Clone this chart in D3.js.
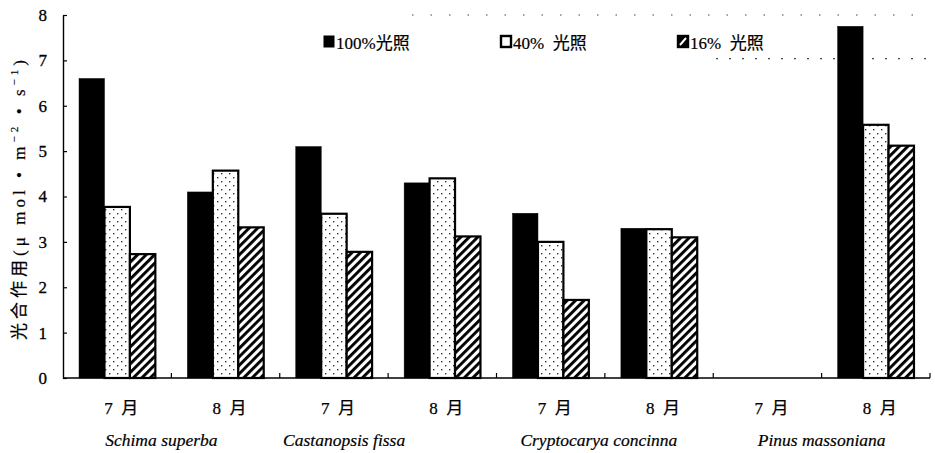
<!DOCTYPE html>
<html><head><meta charset="utf-8">
<script src="https://cdn.jsdelivr.net/npm/d3@7"></script>
<style>
body{margin:0;background:#fff;}
svg{display:block;}
text{font-family:"Liberation Serif","Times New Roman",serif;}
.cjk{font-family:"Liberation Serif","Noto Sans CJK SC",serif;}
</style></head>
<body>
<svg id="chart" width="935" height="453"></svg>
<script>
// ---- data ----
const months = ["7 月","8 月","7 月","8 月","7 月","8 月","7 月","8 月"];
const species = ["Schima superba","Castanopsis fissa","Cryptocarya concinna","Pinus massoniana"];
const seriesNames = ["100%光照","40%  光照","16%  光照"];
const light100 = [6.6, 4.1, 5.1, 4.3, 3.63, 3.3, null, 7.75];
const light40  = [3.77, 4.57, 3.62, 4.4, 3.0, 3.28, null, 5.58];
const light16  = [2.73, 3.32, 2.78, 3.12, 1.72, 3.1, null, 5.12];
const yTicks = [0,1,2,3,4,5,6,7,8];

// ---- layout ----
const svg = d3.select("#chart");
const mLeft = 63, mRight = 930, mTop = 15, mBottom = 378;
const defs = svg.append("defs");
const dots = defs.append("pattern").attr("id","dots").attr("patternUnits","userSpaceOnUse")
  .attr("width",8).attr("height",8);
dots.append("rect").attr("width",8).attr("height",8).attr("fill","#fff");
dots.append("rect").attr("x",1).attr("y",1).attr("width",1.4).attr("height",1.4).attr("fill","#333");
dots.append("rect").attr("x",5).attr("y",5).attr("width",1.4).attr("height",1.4).attr("fill","#333");
const hatch = defs.append("pattern").attr("id","hatch").attr("patternUnits","userSpaceOnUse")
  .attr("width",6).attr("height",6).attr("patternTransform","rotate(45)");
hatch.append("rect").attr("width",6).attr("height",6).attr("fill","#fff");
hatch.append("rect").attr("x",0).attr("y",0).attr("width",2.9).attr("height",6).attr("fill","#000");

const fills = ["#000","url(#dots)","url(#hatch)"];
const seriesData = [light100, light40, light16];

const x0 = d3.scaleBand().domain(d3.range(months.length)).range([mLeft,mRight]).padding(0);
const x1 = d3.scaleBand().domain(d3.range(3)).range([0,x0.bandwidth()]).paddingInner(0).paddingOuter(0.63);
const y = d3.scaleLinear().domain([0,8]).range([mBottom,mTop]);

// faint scan remnants (dotted lines near the top)
svg.append("line").attr("x1",412).attr("x2",930).attr("y1",y(8)).attr("y2",y(8))
  .attr("stroke","#444").attr("stroke-width",1.2).attr("stroke-dasharray","1.5 17");
svg.append("line").attr("x1",716).attr("x2",930).attr("y1",y(7.04)).attr("y2",y(7.04))
  .attr("stroke","#444").attr("stroke-width",1.2).attr("stroke-dasharray","2 11");

// bars
seriesData.forEach((arr,s)=>{
  svg.append("g").selectAll("rect").data(arr.map((v,i)=>({v,i})).filter(d=>d.v!=null))
    .join("rect")
    .attr("x",d=>x0(d.i)+x1(s))
    .attr("y",d=>y(d.v))
    .attr("width",x1.bandwidth())
    .attr("height",d=>y(0)-y(d.v))
    .attr("fill",fills[s])
    .attr("stroke","#000")
    .attr("stroke-width",s===0?0.5:2.2);
});

// y axis
const yAxis = svg.append("g").attr("transform",`translate(${mLeft},0)`)
  .call(d3.axisLeft(y).tickValues(yTicks).tickSizeInner(-4).tickSizeOuter(0).tickPadding(16).tickFormat(d3.format("d")));
yAxis.select(".domain").attr("stroke","#000").attr("stroke-width",1.4);
yAxis.selectAll(".tick line").attr("stroke","#000").attr("stroke-width",1.2);
yAxis.selectAll("text").attr("font-size",17).attr("fill","#000").attr("stroke","#000").attr("stroke-width",0.3)
  .attr("font-family","Liberation Serif");

// x axis
const boundaries = d3.range(months.length+1).map(i=> i<months.length ? x0(i) : mRight);
svg.append("line").attr("x1",mLeft).attr("x2",mRight).attr("y1",mBottom).attr("y2",mBottom)
  .attr("stroke","#000").attr("stroke-width",1.4);
svg.append("g").selectAll("line").data(boundaries.slice(1)).join("line")
  .attr("x1",d=>d).attr("x2",d=>d).attr("y1",mBottom).attr("y2",mBottom-5)
  .attr("stroke","#000").attr("stroke-width",1.2);

svg.append("g").selectAll("text").data(months).join("text")
  .attr("class","cjk")
  .attr("x",(d,i)=>x0(i)+x0.bandwidth()/2+4)
  .attr("y",414)
  .attr("text-anchor","middle")
  .attr("font-size",17)
  .attr("fill","#000").attr("stroke","#000").attr("stroke-width",0.25)
  .style("white-space","pre")
  .text(d=>d.replace(" ","\u00a0\u00a0"));

const speciesDx = [-10,-44,-6,0];
svg.append("g").selectAll("text").data(species).join("text")
  .attr("x",(d,i)=>x0(2*i+1)+speciesDx[i])
  .attr("y",446)
  .attr("text-anchor","middle")
  .attr("font-size",17.5)
  .attr("font-style","italic")
  .attr("fill","#000").attr("stroke","#000").attr("stroke-width",0.2)
  .text(d=>d);

// y title
svg.append("text").attr("class","cjk")
  .attr("transform","translate(25,200) rotate(-90)")
  .attr("text-anchor","middle")
  .attr("font-size",17)
  .attr("fill","#000").attr("stroke","#000").attr("stroke-width",0.2)
  .attr("textLength",280).attr("lengthAdjust","spacing")
  .html('光合作用(μ mol • m<tspan dy="-7" font-size="11">−2</tspan><tspan dy="7"> • s</tspan><tspan dy="-7" font-size="11">−1</tspan><tspan dy="7">)</tspan>');

// legend
const legX = [323, 500, 677];
const leg = svg.append("g");
seriesNames.forEach((n,i)=>{
  leg.append("rect").attr("x",legX[i]+1).attr("y",36).attr("width",10).attr("height",11)
    .attr("fill",i===1?"#fff":"#000").attr("stroke","#000").attr("stroke-width",i===0?1:2.4);
  if(i===2){
    leg.append("line").attr("x1",legX[i]+3).attr("y1",45).attr("x2",legX[i]+9).attr("y2",38)
      .attr("stroke","#fff").attr("stroke-width",2);
  }
  leg.append("text").attr("class","cjk").attr("x",legX[i]+13).attr("y",49)
    .attr("font-size",17).attr("fill","#000").attr("stroke","#000").attr("stroke-width",0.2)
    .style("white-space","pre")
    .text(n);
});
</script>
</body></html>
